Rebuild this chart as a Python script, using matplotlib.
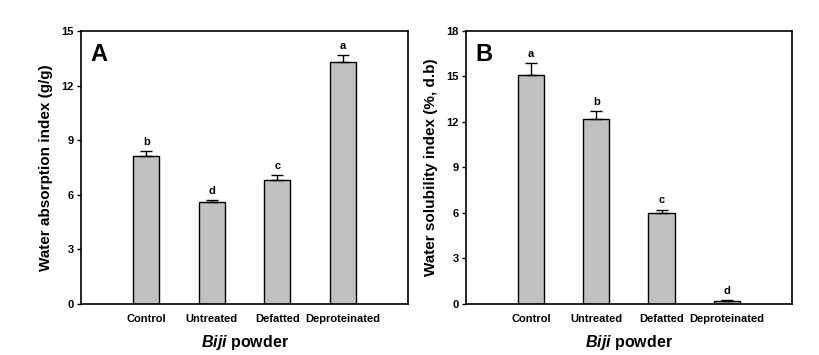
import matplotlib
matplotlib.use("Agg")
import matplotlib.pyplot as plt
import numpy as np

plt.rcParams['font.family'] = ['Liberation Sans', 'DejaVu Sans']
plt.rcParams['mathtext.fontset'] = 'custom'
plt.rcParams['mathtext.it'] = 'Liberation Sans:italic:bold'
plt.rcParams['mathtext.rm'] = 'Liberation Sans:bold'

categories = ["Control", "Untreated", "Defatted", "Deproteinated"]

wai_values = [8.13, 5.60, 6.81, 13.30]
wai_errors = [0.29, 0.11, 0.26, 0.38]
wai_letters = ["b", "d", "c", "a"]

wsi_values = [15.08, 12.17, 5.98, 0.20]
wsi_errors = [0.82, 0.55, 0.24, 0.08]
wsi_letters = ["a", "b", "c", "d"]

fig = plt.figure(figsize=(8.2, 3.55), dpi=100)
axA = fig.add_axes([0.0988, 0.1437, 0.3988, 0.769])
axB = fig.add_axes([0.568, 0.1437, 0.3979, 0.769])

def draw(ax, vals, errs, letters, ymax, yticks, ylabel, panel):
    x = np.arange(len(categories))
    ax.bar(x, vals, width=0.4, color='#c0c0c0', edgecolor='black', linewidth=1.0, zorder=2)
    ax.errorbar(x, vals, yerr=[np.zeros(len(vals)), errs], fmt='none', ecolor='black',
                elinewidth=1.0, capsize=4.3, capthick=1.0, zorder=3)
    for xi, v, e, l in zip(x, vals, errs, letters):
        ax.annotate(l, (xi, v + e), xytext=(0, 3), textcoords='offset points',
                    ha='center', va='bottom', fontsize=8, fontweight='bold')
    ax.set_xlim(-1, 4)
    ax.set_ylim(0, ymax)
    ax.set_yticks(yticks)
    ax.set_xticks(x)
    ax.set_xticklabels(categories, fontsize=8, fontweight='bold')
    ax.tick_params(axis='x', length=0, pad=7)
    ax.tick_params(axis='y', direction='out', length=3, width=1, labelsize=8, pad=2)
    for t in ax.get_yticklabels():
        t.set_fontweight('bold')
    for s in ax.spines.values():
        s.set_linewidth(1.2)
    ax.set_ylabel(ylabel, fontsize=11, fontweight='bold', labelpad=6)
    ax.set_xlabel(r'$Biji$ powder', fontsize=11.5, fontweight='bold', labelpad=7)
    ax.text(0.03, 0.955, panel, transform=ax.transAxes, fontsize=17, fontweight='bold',
            ha='left', va='top')

draw(axA, wai_values, wai_errors, wai_letters, 15, [0, 3, 6, 9, 12, 15],
     'Water absorption index (g/g)', 'A')
draw(axB, wsi_values, wsi_errors, wsi_letters, 18, [0, 3, 6, 9, 12, 15, 18],
     'Water solubility index (%, d.b)', 'B')

fig.savefig('out.png', dpi=100)
